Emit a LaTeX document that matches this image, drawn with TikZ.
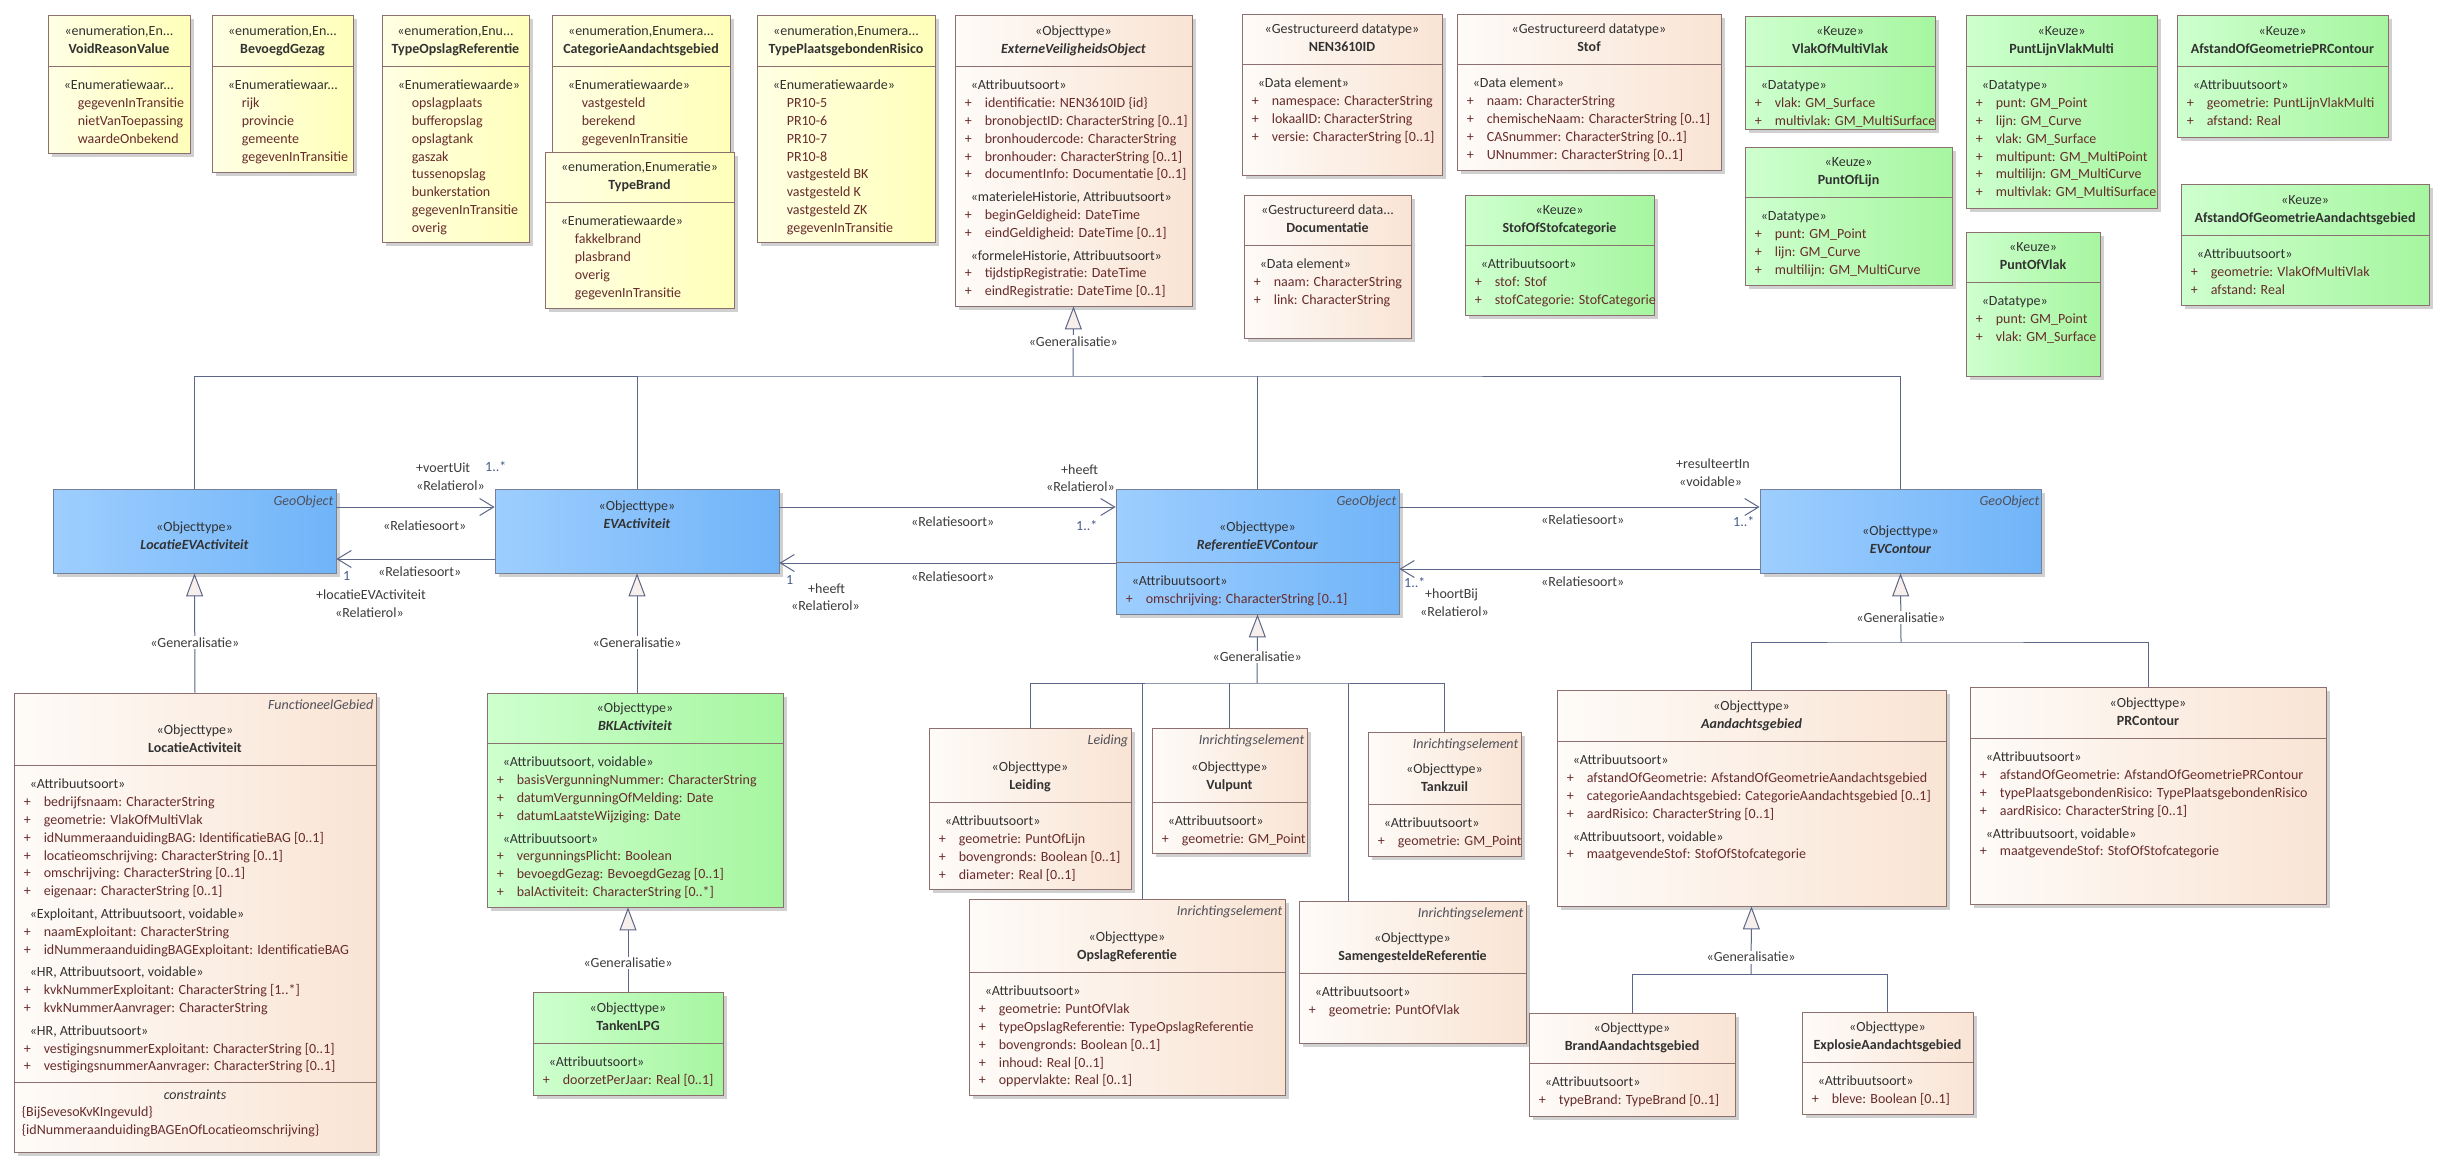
\documentclass[tikz,border=0pt]{standalone}
\usepackage{fontspec}
\setmainfont{Carlito}
\usetikzlibrary{positioning,fit,shadows,arrows.meta}

\definecolor{enumL}{RGB}{255,255,228}
\definecolor{enumR}{RGB}{255,255,186}
\definecolor{peachL}{RGB}{254,251,248}
\definecolor{peachR}{RGB}{249,228,212}
\definecolor{greenL}{RGB}{206,255,206}
\definecolor{greenR}{RGB}{166,246,160}
\definecolor{blueL}{RGB}{158,206,255}
\definecolor{blueR}{RGB}{112,180,248}
\definecolor{boxline}{RGB}{140,112,112}
\definecolor{blueline}{RGB}{118,128,150}
\definecolor{shadowgray}{RGB}{208,208,208}
\definecolor{linecol}{RGB}{92,102,136}
\definecolor{attrcol}{RGB}{104,44,44}
\definecolor{stereocol}{RGB}{50,50,50}
\definecolor{tagcol}{RGB}{80,80,90}
\definecolor{lblcol}{RGB}{60,60,60}
\definecolor{multcol}{RGB}{72,92,140}
\definecolor{genfill}{RGB}{247,239,235}

\newcommand\fs{\fontsize{14pt}{17.8pt}\selectfont}
\newcommand\fst{\rule{0pt}{12pt}}
\newcommand\sv[1]{\hspace*{6pt}{\color{stereocol}#1}}
\newcommand\pa[1]{\makebox[20pt][l]{+}#1}
\newcommand\ev[1]{\hspace*{20pt}#1}

\tikzset{
  umlbox/.style={draw=boxline, line width=0.8pt, inner sep=0pt,
    drop shadow={shadow xshift=4pt, shadow yshift=-4pt, fill=shadowgray, opacity=1}},
  enumbox/.style={umlbox, left color=enumL, right color=enumR},
  databox/.style={umlbox, left color=peachL, right color=peachR},
  keuzebox/.style={umlbox, left color=greenL, right color=greenR},
  geobox/.style={umlbox, draw=blueline, left color=blueL, right color=blueR},
  hdr/.style={anchor=north, align=center, inner sep=0pt, font=\fs, text=stereocol},
  body/.style={anchor=north west, align=left, inner sep=0pt, font=\fs, text=attrcol},
  tag/.style={anchor=north east, inner sep=0pt, font=\fs\itshape, text=tagcol},
  divline/.style={draw=boxline, line width=0.8pt},
  conn/.style={draw=linecol, line width=1pt},
  assoc/.style={conn, -{Straight Barb[length=14pt,width=17pt]}},
  gen/.style={conn, -{Triangle[length=23pt,width=17pt,fill=genfill]}},
  genlbl/.style={fill=white, inner sep=1.5pt, font=\fs, text=lblcol},
  lbl/.style={anchor=west, inner sep=0pt, font=\fs, text=lblcol},
  mult/.style={lbl, text=multcol},
}

% box: name, style, x1, y1, x2, y2, header offset, header, body
\newcommand\classbox[9]{%
  \node[#2, fit={(#3,#4) (#5,#6)}] (#1) {};
  \node[hdr, below=#7pt of #1.north] (#1-head) {\fst#8};
  \if\relax\detokenize{#9}\relax\else
    \pgfmathsetmacro\divy{#4+#7+42}%
    \pgfmathsetmacro\bodyoff{#7+54}%
    \draw[divline] (#3,\divy) -- (#5,\divy);
    \node[body, below right=\bodyoff pt and 10pt of #1.north west] (#1-body) {\fst#9};
  \fi}

\begin{document}
\begin{tikzpicture}[x=1pt, y=-1pt]
  \useasboundingbox (0,0) rectangle (2449,1170);
  \fill[white] (0,0) rectangle (2449,1170);

  % enumeraties
  \classbox{voidreason}{enumbox}{48}{15}{190}{153}{9}{«enumeration,En...\\\textbf{VoidReasonValue}}
    {\sv{«Enumeratiewaar...}\\\ev{gegevenInTransitie}\\\ev{nietVanToepassing}\\\ev{waardeOnbekend}}
  \classbox{bevoegd}{enumbox}{212}{15}{353}{172}{9}{«enumeration,En...\\\textbf{BevoegdGezag}}
    {\sv{«Enumeratiewaar...}\\\ev{rijk}\\\ev{provincie}\\\ev{gemeente}\\\ev{gegevenInTransitie}}
  \classbox{typeopslag}{enumbox}{382}{15}{529}{242}{9}{«enumeration,Enu...\\\textbf{TypeOpslagReferentie}}
    {\sv{«Enumeratiewaarde»}\\\ev{opslagplaats}\\\ev{bufferopslag}\\\ev{opslagtank}\\\ev{gaszak}\\\ev{tussenopslag}\\\ev{bunkerstation}\\\ev{gegevenInTransitie}\\\ev{overig}}
  \classbox{categorie}{enumbox}{552}{15}{730}{165}{9}{«enumeration,Enumera...\\\textbf{CategorieAandachtsgebied}}
    {\sv{«Enumeratiewaarde»}\\\ev{vastgesteld}\\\ev{berekend}\\\ev{gegevenInTransitie}}
  \classbox{typebrand}{enumbox}{545}{152}{734}{308}{8}{«enumeration,Enumeratie»\\\textbf{TypeBrand}}
    {\sv{«Enumeratiewaarde»}\\\ev{fakkelbrand}\\\ev{plasbrand}\\\ev{overig}\\\ev{gegevenInTransitie}}
  \classbox{typepr}{enumbox}{757}{15}{935}{242}{9}{«enumeration,Enumera...\\\textbf{TypePlaatsgebondenRisico}}
    {\sv{«Enumeratiewaarde»}\\\ev{PR10-5}\\\ev{PR10-6}\\\ev{PR10-7}\\\ev{PR10-8}\\\ev{vastgesteld BK}\\\ev{vastgesteld K}\\\ev{vastgesteld ZK}\\\ev{gegevenInTransitie}}

  % datatypes en keuzes
  \classbox{evo}{databox}{955}{15}{1192}{306}{9}{«Objecttype»\\\textbf{\textit{ExterneVeiligheidsObject}}}
    {\sv{«Attribuutsoort»}\\\pa{identificatie: NEN3610ID \{id\}}\\\pa{bronobjectID: CharacterString [0..1]}\\\pa{bronhoudercode: CharacterString}\\\pa{bronhouder: CharacterString [0..1]}\\\pa{documentInfo: Documentatie [0..1]}\\[5pt]
     \sv{«materieleHistorie, Attribuutsoort»}\\\pa{beginGeldigheid: DateTime}\\\pa{eindGeldigheid: DateTime [0..1]}\\[5pt]
     \sv{«formeleHistorie, Attribuutsoort»}\\\pa{tijdstipRegistratie: DateTime}\\\pa{eindRegistratie: DateTime [0..1]}}
  \classbox{nen}{databox}{1242}{14}{1442}{175}{8}{«Gestructureerd datatype»\\\textbf{NEN3610ID}}
    {\sv{«Data element»}\\\pa{namespace: CharacterString}\\\pa{lokaalID: CharacterString}\\\pa{versie: CharacterString [0..1]}}
  \classbox{stof}{databox}{1457}{14}{1721}{170}{8}{«Gestructureerd datatype»\\\textbf{Stof}}
    {\sv{«Data element»}\\\pa{naam: CharacterString}\\\pa{chemischeNaam: CharacterString [0..1]}\\\pa{CASnummer: CharacterString [0..1]}\\\pa{UNnummer: CharacterString [0..1]}}
  \classbox{documentatie}{databox}{1244}{195}{1411}{338}{8}{«Gestructureerd data...\\\textbf{Documentatie}}
    {\sv{«Data element»}\\\pa{naam: CharacterString}\\\pa{link: CharacterString}}
  \classbox{stofofcat}{keuzebox}{1465}{195}{1654}{315}{8}{«Keuze»\\\textbf{StofOfStofcategorie}}
    {\sv{«Attribuutsoort»}\\\pa{stof: Stof}\\\pa{stofCategorie: StofCategorie}}
  \classbox{vlakofmulti}{keuzebox}{1745}{16}{1935}{129}{8}{«Keuze»\\\textbf{VlakOfMultiVlak}}
    {\sv{«Datatype»}\\\pa{vlak: GM\_Surface}\\\pa{multivlak: GM\_MultiSurface}}
  \classbox{puntoflijn}{keuzebox}{1745}{147}{1952}{285}{8}{«Keuze»\\\textbf{PuntOfLijn}}
    {\sv{«Datatype»}\\\pa{punt: GM\_Point}\\\pa{lijn: GM\_Curve}\\\pa{multilijn: GM\_MultiCurve}}
  \classbox{puntlijnvlak}{keuzebox}{1966}{15}{2157}{208}{9}{«Keuze»\\\textbf{PuntLijnVlakMulti}}
    {\sv{«Datatype»}\\\pa{punt: GM\_Point}\\\pa{lijn: GM\_Curve}\\\pa{vlak: GM\_Surface}\\\pa{multipunt: GM\_MultiPoint}\\\pa{multilijn: GM\_MultiCurve}\\\pa{multivlak: GM\_MultiSurface}}
  \classbox{puntofvlak}{keuzebox}{1966}{232}{2100}{376}{8}{«Keuze»\\\textbf{PuntOfVlak}}
    {\sv{«Datatype»}\\\pa{punt: GM\_Point}\\\pa{vlak: GM\_Surface}}
  \classbox{afstandpr}{keuzebox}{2177}{15}{2388}{137}{9}{«Keuze»\\\textbf{AfstandOfGeometriePRContour}}
    {\sv{«Attribuutsoort»}\\\pa{geometrie: PuntLijnVlakMulti}\\\pa{afstand: Real}}
  \classbox{afstandag}{keuzebox}{2181}{184}{2429}{305}{9}{«Keuze»\\\textbf{AfstandOfGeometrieAandachtsgebied}}
    {\sv{«Attribuutsoort»}\\\pa{geometrie: VlakOfMultiVlak}\\\pa{afstand: Real}}

  % geo-objecten
  \classbox{locevact}{geobox}{53}{489}{336}{573}{31}{«Objecttype»\\\textbf{\textit{LocatieEVActiviteit}}}{}
  \classbox{evact}{geobox}{495}{489}{779}{573}{10}{«Objecttype»\\\textbf{\textit{EVActiviteit}}}{}
  \classbox{refcontour}{geobox}{1116}{489}{1399}{614}{31}{«Objecttype»\\\textbf{\textit{ReferentieEVContour}}}
    {\sv{«Attribuutsoort»}\\\pa{omschrijving: CharacterString [0..1]}}
  \classbox{evcontour}{geobox}{1760}{489}{2041}{573}{35}{«Objecttype»\\\textbf{\textit{EVContour}}}{}
  \node[tag, below left=5pt and 3pt of locevact.north east] (locevact-tag) {\fst GeoObject};
  \node[tag, below left=5pt and 3pt of refcontour.north east] (refcontour-tag) {\fst GeoObject};
  \node[tag, below left=5pt and 2pt of evcontour.north east] (evcontour-tag) {\fst GeoObject};

  % onderste rij
  \classbox{locact}{databox}{14}{693}{376}{1152}{30}{«Objecttype»\\\textbf{LocatieActiviteit}}
    {\sv{«Attribuutsoort»}\\\pa{bedrijfsnaam: CharacterString}\\\pa{geometrie: VlakOfMultiVlak}\\\pa{idNummeraanduidingBAG: IdentificatieBAG [0..1]}\\\pa{locatieomschrijving: CharacterString [0..1]}\\\pa{omschrijving: CharacterString [0..1]}\\\pa{eigenaar: CharacterString [0..1]}\\[5pt]
     \sv{«Exploitant, Attribuutsoort, voidable»}\\\pa{naamExploitant: CharacterString}\\\pa{idNummeraanduidingBAGExploitant: IdentificatieBAG}\\[5pt]
     \sv{«HR, Attribuutsoort, voidable»}\\\pa{kvkNummerExploitant: CharacterString [1..*]}\\\pa{kvkNummerAanvrager: CharacterString}\\[5pt]
     \sv{«HR, Attribuutsoort»}\\\pa{vestigingsnummerExploitant: CharacterString [0..1]}\\\pa{vestigingsnummerAanvrager: CharacterString [0..1]}}
  \node[tag, below left=5pt and 3pt of locact.north east] (locact-tag) {\fst FunctioneelGebied};
  \draw[divline] (14,1082) -- (376,1082);
  \node[hdr, font=\fs\itshape, below=395pt of locact.north] (locact-cons) {\fst constraints};
  \node[body, below right=412pt and 8pt of locact.north west] (locact-rules)
    {\fst\{BijSevesoKvKIngevuld\}\\\{idNummeraanduidingBAGEnOfLocatieomschrijving\}};

  \classbox{bkl}{keuzebox}{487}{693}{783}{907}{8}{«Objecttype»\\\textbf{\textit{BKLActiviteit}}}
    {\sv{«Attribuutsoort, voidable»}\\\pa{basisVergunningNummer: CharacterString}\\\pa{datumVergunningOfMelding: Date}\\\pa{datumLaatsteWijziging: Date}\\[5pt]
     \sv{«Attribuutsoort»}\\\pa{vergunningsPlicht: Boolean}\\\pa{bevoegdGezag: BevoegdGezag [0..1]}\\\pa{balActiviteit: CharacterString [0..*]}}
  \classbox{tanken}{keuzebox}{533}{992}{723}{1095}{9}{«Objecttype»\\\textbf{TankenLPG}}
    {\sv{«Attribuutsoort»}\\\pa{doorzetPerJaar: Real [0..1]}}

  \classbox{leiding}{databox}{929}{728}{1131}{889}{32}{«Objecttype»\\\textbf{Leiding}}
    {\sv{«Attribuutsoort»}\\\pa{geometrie: PuntOfLijn}\\\pa{bovengronds: Boolean [0..1]}\\\pa{diameter: Real [0..1]}}
  \classbox{vulpunt}{databox}{1152}{728}{1307}{853}{32}{«Objecttype»\\\textbf{Vulpunt}}
    {\sv{«Attribuutsoort»}\\\pa{geometrie: GM\_Point}}
  \classbox{tankzuil}{databox}{1368}{732}{1521}{856}{30}{«Objecttype»\\\textbf{Tankzuil}}
    {\sv{«Attribuutsoort»}\\\pa{geometrie: GM\_Point}}
  \classbox{opslag}{databox}{969}{899}{1285}{1095}{31}{«Objecttype»\\\textbf{OpslagReferentie}}
    {\sv{«Attribuutsoort»}\\\pa{geometrie: PuntOfVlak}\\\pa{typeOpslagReferentie: TypeOpslagReferentie}\\\pa{bovengronds: Boolean [0..1]}\\\pa{inhoud: Real [0..1]}\\\pa{oppervlakte: Real [0..1]}}
  \classbox{samengesteld}{databox}{1299}{901}{1526}{1043}{30}{«Objecttype»\\\textbf{SamengesteldeReferentie}}
    {\sv{«Attribuutsoort»}\\\pa{geometrie: PuntOfVlak}}
  \node[tag, below left=5pt and 3pt of leiding.north east] (leiding-tag) {\fst Leiding};
  \node[tag, below left=5pt and 3pt of vulpunt.north east] (vulpunt-tag) {\fst Inrichtingselement};
  \node[tag, below left=5pt and 3pt of tankzuil.north east] (tankzuil-tag) {\fst Inrichtingselement};
  \node[tag, below left=5pt and 3pt of opslag.north east] (opslag-tag) {\fst Inrichtingselement};
  \node[tag, below left=5pt and 3pt of samengesteld.north east] (samengesteld-tag) {\fst Inrichtingselement};

  \classbox{aandacht}{databox}{1557}{690}{1946}{906}{9}{«Objecttype»\\\textbf{\textit{Aandachtsgebied}}}
    {\sv{«Attribuutsoort»}\\\pa{afstandOfGeometrie: AfstandOfGeometrieAandachtsgebied}\\\pa{categorieAandachtsgebied: CategorieAandachtsgebied [0..1]}\\\pa{aardRisico: CharacterString [0..1]}\\[5pt]
     \sv{«Attribuutsoort, voidable»}\\\pa{maatgevendeStof: StofOfStofcategorie}}
  \classbox{prcontour}{databox}{1970}{687}{2326}{904}{9}{«Objecttype»\\\textbf{PRContour}}
    {\sv{«Attribuutsoort»}\\\pa{afstandOfGeometrie: AfstandOfGeometriePRContour}\\\pa{typePlaatsgebondenRisico: TypePlaatsgebondenRisico}\\\pa{aardRisico: CharacterString [0..1]}\\[5pt]
     \sv{«Attribuutsoort, voidable»}\\\pa{maatgevendeStof: StofOfStofcategorie}}
  \classbox{brand}{databox}{1529}{1013}{1735}{1116}{8}{«Objecttype»\\\textbf{BrandAandachtsgebied}}
    {\sv{«Attribuutsoort»}\\\pa{typeBrand: TypeBrand [0..1]}}
  \classbox{explosie}{databox}{1802}{1012}{1973}{1114}{8}{«Objecttype»\\\textbf{ExplosieAandachtsgebied}}
    {\sv{«Attribuutsoort»}\\\pa{bleve: Boolean [0..1]}}

  % generalisaties
  \coordinate (evobus) at (1073,376);
  \draw[gen] (evobus) -- node[genlbl] (evo-gen) {«Generalisatie»} (evo.south);
  \draw[conn] (locevact.north) |- (evobus) -| (evcontour.north);
  \draw[conn] (evact.north) -- (evact.north |- evobus);
  \draw[conn] (refcontour.north) -- (refcontour.north |- evobus);

  \draw[gen] (locact.north) -- node[genlbl, pos=0.42] (locact-gen) {«Generalisatie»} (locevact.south);
  \draw[gen] (bkl.north -| evact.south) -- node[genlbl, pos=0.42] (bkl-gen) {«Generalisatie»} (evact.south);
  \draw[gen] (tanken.north) -- node[genlbl, pos=0.34] (tanken-gen) {«Generalisatie»} (tanken.north |- bkl.south);

  \coordinate (refbus) at (1257,683);
  \draw[gen] (refbus) -- node[genlbl, pos=0.38] (ref-gen) {«Generalisatie»} (refcontour.south);
  \draw[conn] (leiding.north) |- (refbus) -| (tankzuil.north);
  \draw[conn] (vulpunt.north) -- (vulpunt.north |- refbus);
  \draw[conn] ([xshift=15pt]opslag.north) -- ([xshift=15pt]opslag.north |- refbus);
  \draw[conn] ([xshift=-64pt]samengesteld.north) -- ([xshift=-64pt]samengesteld.north |- refbus);

  \coordinate (evcbus) at (1901,642);
  \draw[gen] (evcbus) -- node[genlbl, pos=0.36] (evc-gen) {«Generalisatie»} (evcontour.south);
  \draw[conn] (aandacht.north) |- (evcbus) -| (prcontour.north);

  \coordinate (aandbus) at (1751,974);
  \draw[gen] (aandbus) -- node[genlbl, pos=0.25] (aandacht-gen) {«Generalisatie»} (aandacht.south);
  \draw[conn] (brand.north) |- (aandbus) -| (explosie.north);

  % relatiesoorten
  \draw[assoc] ([yshift=24pt]locevact.east) -- ([yshift=24pt]evact.west);
  \draw[assoc] ([yshift=-28pt]evact.west) -- ([yshift=-28pt]locevact.east);
  \draw[assoc] ([yshift=24pt]evact.east) -- ([yshift=24pt]evact.east -| refcontour.west);
  \draw[assoc] ([yshift=-32pt]evact.east -| refcontour.west) -- ([yshift=-32pt]evact.east);
  \draw[assoc] ([yshift=24pt]evcontour.west -| refcontour.east) -- ([yshift=24pt]evcontour.west);
  \draw[assoc] ([yshift=-38pt]evcontour.west) -- ([yshift=-38pt]evcontour.west -| refcontour.east);

  \node[lbl] (voertuit) at (416,468) {+voertUit};
  \node[mult] (voertuit-m) at (485,467) {1..*};
  \node[lbl] (voertuit-r) at (416,486) {«Relatierol»};
  \node[lbl] (voertuit-s) at (383,526) {«Relatiesoort»};
  \node[mult] (locatie-m) at (343,576) {1};
  \node[lbl] (locatie-s) at (378,572) {«Relatiesoort»};
  \node[lbl] (locatie) at (316,595) {+locatieEVActiviteit};
  \node[lbl] (locatie-r) at (335,613) {«Relatierol»};

  \node[lbl] (heeftref) at (1061,470) {+heeft};
  \node[lbl] (heeftref-r) at (1046,487) {«Relatierol»};
  \node[mult] (heeftref-m) at (1076,526) {1..*};
  \node[lbl] (heeftref-s) at (911,522) {«Relatiesoort»};
  \node[lbl] (heeftact-s) at (911,577) {«Relatiesoort»};
  \node[mult] (heeftact-m) at (786,580) {1};
  \node[lbl] (heeftact) at (808,589) {+heeft};
  \node[lbl] (heeftact-r) at (791,606) {«Relatierol»};

  \node[lbl] (resulteert) at (1676,464) {+resulteertIn};
  \node[lbl] (resulteert-v) at (1679,482) {«voidable»};
  \node[mult] (resulteert-m) at (1733,522) {1..*};
  \node[lbl] (resulteert-s) at (1541,520) {«Relatiesoort»};
  \node[lbl] (hoortbij-s) at (1541,582) {«Relatiesoort»};
  \node[mult] (hoortbij-m) at (1404,583) {1..*};
  \node[lbl] (hoortbij) at (1425,595) {+hoortBij};
  \node[lbl] (hoortbij-r) at (1420,612) {«Relatierol»};
\end{tikzpicture}
\end{document}
